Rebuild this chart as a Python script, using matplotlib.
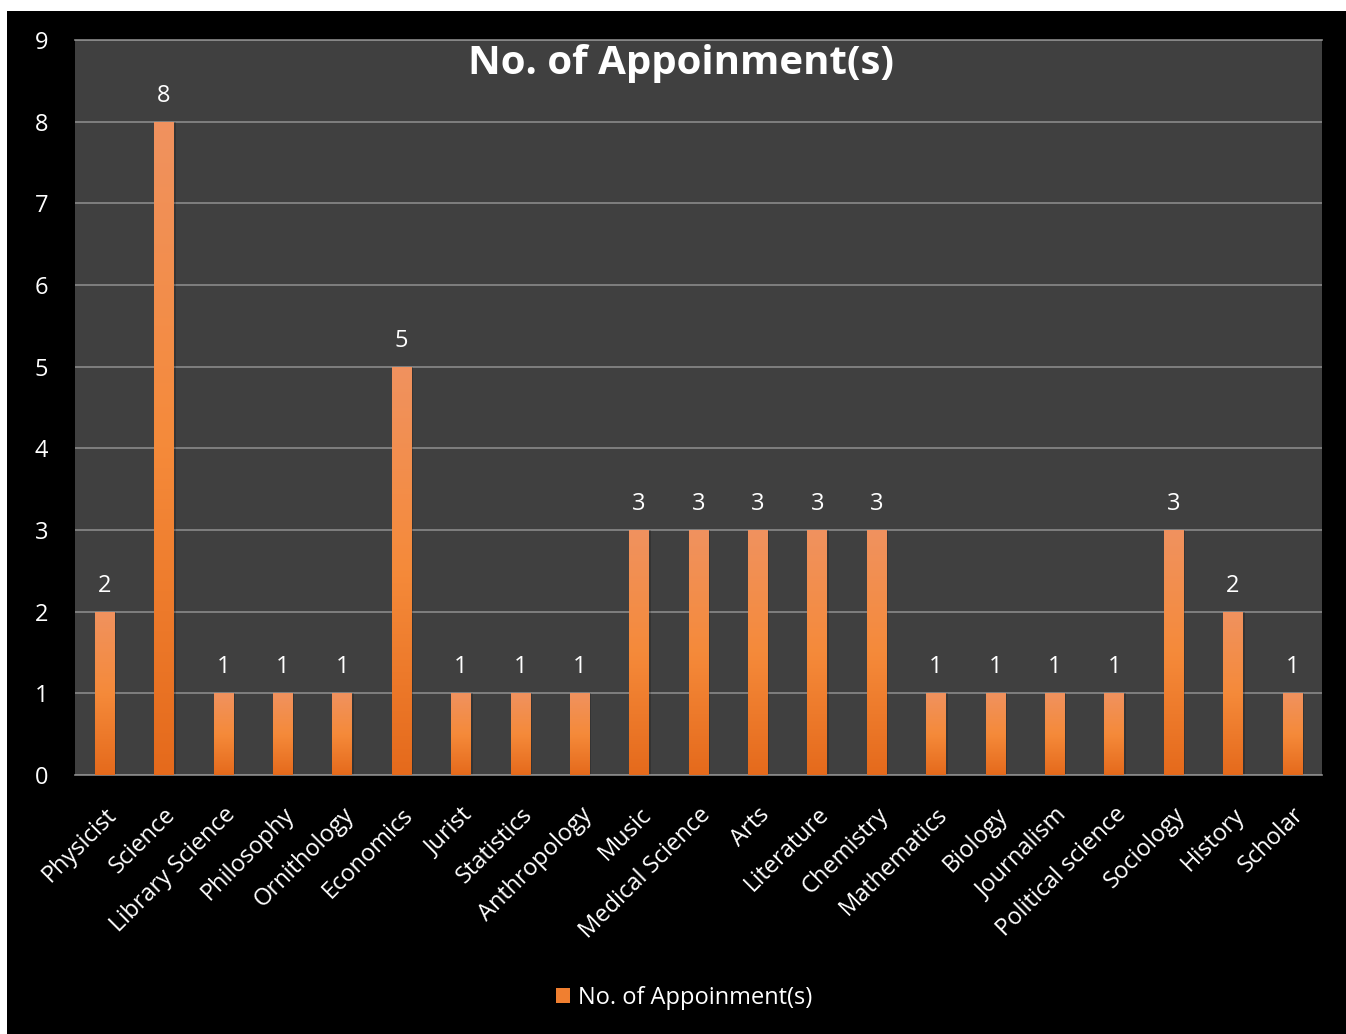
import numpy as np
import matplotlib.pyplot as plt
from matplotlib.colors import LinearSegmentedColormap
from matplotlib.patches import Rectangle

subjects = ['Physicist', 'Science', 'Library Science', 'Philosophy', 'Ornithology',
            'Economics', 'Jurist', 'Statistics', 'Anthropology', 'Music',
            'Medical Science', 'Arts', 'Literature', 'Chemistry', 'Mathematics',
            'Biology', 'Journalism', 'Political science', 'Sociology', 'History',
            'Scholar']
appointments = [2, 8, 1, 1, 1, 5, 1, 1, 1, 3, 3, 3, 3, 3, 1, 1, 1, 1, 3, 2, 1]
series_name = 'No. of Appoinment(s)'

plt.rcParams['font.family'] = ['Open Sans', 'DejaVu Sans']

fig = plt.figure(figsize=(13.46, 10.34), dpi=100)
fig.patch.set_facecolor('white')
# black chart area (white strip on top and left as in the screenshot)
fig.patches.append(Rectangle((7 / 1346, 0), 1 - 7 / 1346, 1 - 11 / 1034,
                             transform=fig.transFigure, facecolor='black',
                             edgecolor='none', zorder=-1))

ax = fig.add_axes([75 / 1346, 1 - 775 / 1034, 1247 / 1346, 735 / 1034])
ax.set_zorder(1)
ax.set_facecolor('#404040')

x = np.arange(len(subjects))
grad = LinearSegmentedColormap.from_list('og', ['#E56A1C', '#F58A3A', '#F0925F'])
bars = ax.bar(x, appointments, width=0.33, color='none', zorder=3)
g = np.linspace(0, 1, 256).reshape(-1, 1)
for b in bars:
    x0, w, h = b.get_x(), b.get_width(), b.get_height()
    # soft shadow to the right
    ax.add_patch(Rectangle((x0 + 0.03, 0), w, h, facecolor='black', alpha=0.18,
                           edgecolor='none', zorder=2))
    im = ax.imshow(g, cmap=grad, origin='lower', extent=[x0, x0 + w, 0, h],
                   aspect='auto', zorder=3)
    im.set_clip_path(b)
    ax.text(x0 + w / 2, h + 0.17, str(int(h)), ha='center',
            va='bottom', color='white', fontsize=17)

ax.set_xlim(-0.5, len(subjects) - 0.5)
ax.set_ylim(0, 9)
ax.set_yticks(range(10))
ax.yaxis.grid(True, color='#8a8a8a', linewidth=1.2, zorder=1)
ax.set_axisbelow(True)
for s in ['left', 'right']:
    ax.spines[s].set_visible(False)
ax.spines['top'].set_color('#8a8a8a')
ax.spines['bottom'].set_color('#8a8a8a')
ax.spines['top'].set_linewidth(1.2)
ax.spines['bottom'].set_linewidth(1.2)
ax.tick_params(axis='both', length=0, colors='white', labelsize=17)
ax.tick_params(axis='y', pad=24)
for lab in ax.get_yticklabels():
    lab.set_horizontalalignment('center')
ax.set_xticks(x)
ax.set_xticklabels(subjects, rotation=45, ha='right', rotation_mode='anchor',
                   fontsize=17)
ax.tick_params(axis='x', pad=20)

ax.text(0.486, 0.995, series_name, transform=ax.transAxes, ha='center', va='top',
        color='white', fontsize=29, fontweight='bold')

handle = Rectangle((0, 0), 1, 1, facecolor='#F07F30')
leg = fig.legend([handle], [series_name], loc='center', bbox_to_anchor=(684 / 1346, 1 - 998 / 1034),
                 frameon=False, fontsize=17, handlelength=0.6, handleheight=0.6,
                 handletextpad=0.3, labelcolor='white')

fig.savefig('out.png', dpi=100, facecolor=fig.get_facecolor())
